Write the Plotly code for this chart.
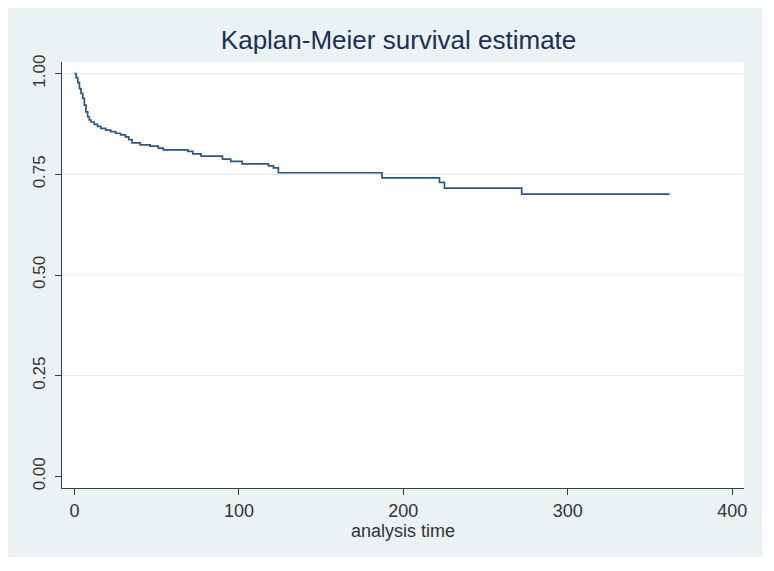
import plotly.graph_objects as go

# Kaplan-Meier step data (time, survival)
times = [0, 1, 2, 3, 4, 5, 6, 7, 8, 9, 10, 12, 14, 16, 19, 22, 25, 28, 31, 33, 35,
         40, 46, 51, 54, 69, 72, 77, 90, 95, 102, 118, 121, 124, 187, 222, 225, 272, 362]
survival = [1.0, 0.990, 0.978, 0.963, 0.951, 0.939, 0.922, 0.905, 0.893, 0.885, 0.880,
            0.874, 0.869, 0.864, 0.860, 0.856, 0.852, 0.848, 0.843, 0.836, 0.828,
            0.823, 0.820, 0.815, 0.811, 0.807, 0.801, 0.795, 0.788, 0.782, 0.776,
            0.771, 0.766, 0.754, 0.741, 0.730, 0.716, 0.701, 0.701]

x_ticks = [0, 100, 200, 300, 400]
y_ticks = [0.0, 0.25, 0.50, 0.75, 1.0]
y_tick_labels = ["0.00", "0.25", "0.50", "0.75", "1.00"]
grid_values = y_ticks[1:]

title_text = "Kaplan-Meier survival estimate"
x_title = "analysis time"

PANEL = "#eaf2f3"
AXIS = "#3c3c3c"
FONT = "Liberation Sans, Arial, sans-serif"

fig = go.Figure()
fig.add_trace(go.Scatter(
    x=times, y=survival, mode="lines", line_shape="hv",
    line=dict(color="#2b5883", width=1.7), showlegend=False, hoverinfo="skip"))

shapes = []
for g in grid_values:
    shapes.append(dict(type="line", xref="paper", yref="y", x0=0, x1=1, y0=g, y1=g,
                       line=dict(color="#e4edf0", width=1.2), layer="below"))

fig.update_layout(
    width=754, height=549,
    margin=dict(l=54, r=18, t=54, b=69),
    paper_bgcolor=PANEL, plot_bgcolor="white",
    shapes=shapes,
    title=dict(text=title_text, x=0.518, xref="container", xanchor="center",
               y=1 - 32 / 549, yref="container", yanchor="middle",
               font=dict(family=FONT, size=26, color="#1c2f55")),
    xaxis=dict(range=[-7.6, 407.2], tickvals=x_ticks, ticks="outside", ticklen=6,
               tickwidth=1.3, tickcolor=AXIS, showline=True, linecolor=AXIS, linewidth=1.3,
               showgrid=False, zeroline=False, ticklabelstandoff=0, automargin=False,
               tickfont=dict(family=FONT, size=18, color="#333333"),
               title=dict(text=x_title, standoff=0,
                          font=dict(family=FONT, size=18, color="#333333"))),
    yaxis=dict(range=[-0.029, 1.029], tickvals=y_ticks, ticktext=y_tick_labels,
               ticks="outside", ticklen=6, tickwidth=1.3, tickcolor=AXIS,
               showline=True, linecolor=AXIS, linewidth=1.3, showgrid=False,
               zeroline=False, tickangle=-90, ticklabelstandoff=3, automargin=False,
               tickfont=dict(family=FONT, size=17, color="#333333")),
)

fig.write_html("out.html")
